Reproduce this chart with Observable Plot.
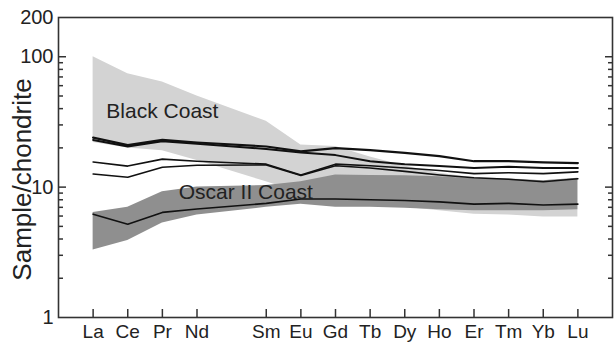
<!DOCTYPE html>
<html>
<head>
<meta charset="utf-8">
<script src="https://cdn.jsdelivr.net/npm/d3@7"></script>
<script src="https://cdn.jsdelivr.net/npm/@observablehq/plot@0.6"></script>
<style>
  html, body { margin: 0; padding: 0; background: #fff; }
  #chart { width: 614px; height: 344px; }
</style>
</head>
<body>
<div id="chart"></div>
<script>
// Full REE sequence (Pm is not plotted but keeps its slot)
const reeOrder = ["La","Ce","Pr","Nd","Pm","Sm","Eu","Gd","Tb","Dy","Ho","Er","Tm","Yb","Lu"];
const elements = ["La","Ce","Pr","Nd","Sm","Eu","Gd","Tb","Dy","Ho","Er","Tm","Yb","Lu"];

// Black Coast field (light grey)
const blackCoastUpper = [100, 74, 64, 50, 32, 21, 20.5, 17, 14.5, 12.8, 11.8, 11.6, 11.2, 11.6];
const blackCoastLower = [22, 20, 19, 16, 11, 9, 7.5, 7.3, 7.0, 6.6, 6.2, 6.1, 5.9, 5.9];
// Oscar II Coast field (dark grey)
const oscarUpper = [6.4, 7.0, 9.2, 10, 10.3, 11, 12.4, 12.3, 12.2, 12, 11.6, 11.5, 11.2, 11.7];
const oscarLower = [3.3, 3.9, 5.3, 6.1, 7.0, 7.4, 7.0, 7.0, 6.9, 6.7, 6.6, 6.6, 6.6, 6.7];

// Individual sample patterns
const sampleA = [24, 21, 23, 22, 20.5, 18.8, 19.9, 19.2, 18.3, 17.3, 15.8, 15.8, 15.5, 15.3];
const sampleB = [23, 20.5, 22.5, 21.5, 19.6, 18.4, 17.6, 15.8, 15.0, 14.5, 14.0, 14.3, 14.0, 14.0];
const sampleC = [15.6, 14.5, 16.4, 15.8, 15.0, 12.4, 15.0, 14.6, 14.0, 13.4, 12.7, 12.9, 12.7, 13.1];
const sampleD = [12.6, 11.9, 14.2, 14.7, 14.8, 12.3, 14.6, 14.0, 13.2, 12.4, 11.8, 11.5, 11.0, 11.6];
const sampleOscar = [6.2, 5.2, 6.4, 6.8, 7.5, 8.1, 8.1, 8.0, 7.9, 7.7, 7.4, 7.5, 7.3, 7.4];

// Axis ticks
const yLabelTicks = [1, 10, 100, 200];
const yMajorTicks = [10, 100];
const yMinorTicks = [2, 3, 4, 5, 6, 7, 8, 9, 20, 30, 40, 50, 60, 70, 80, 90];

// Field labels
const fieldLabels = [
  {text: "Black Coast", at: 2, value: 38},
  {text: "Oscar II Coast", at: 4.41, value: 9.1}
];

const xOf = (el) => reeOrder.indexOf(el);
const rows = elements.map((el, i) => ({
  el, x: xOf(el),
  bcU: blackCoastUpper[i], bcL: blackCoastLower[i],
  osU: oscarUpper[i], osL: oscarLower[i]
}));
const lineData = (arr, name) => elements.map((el, i) => ({x: xOf(el), v: arr[i], s: name}));

const font = "'Liberation Sans', Arial, Helvetica, sans-serif";
const ink = "#222";

const chart = Plot.plot({
  width: 614,
  height: 344,
  marginLeft: 58,
  marginRight: 2,
  marginTop: 17,
  marginBottom: 27,
  style: {fontFamily: font, background: "#fff", color: ink},
  x: {domain: [-1, 15], axis: null},
  y: {type: "log", domain: [1, 200], axis: null},
  marks: [
    Plot.areaY(rows, {x: "x", y1: "bcL", y2: "bcU", fill: "#d3d3d3"}),
    Plot.areaY(rows, {x: "x", y1: "osL", y2: "osU", fill: "#8f8f8f"}),
    Plot.lineY(lineData(sampleD, "D"), {x: "x", y: "v", stroke: "#111", strokeWidth: 1.6}),
    Plot.lineY(lineData(sampleC, "C"), {x: "x", y: "v", stroke: "#111", strokeWidth: 1.6}),
    Plot.lineY(lineData(sampleB, "B"), {x: "x", y: "v", stroke: "#111", strokeWidth: 2}),
    Plot.lineY(lineData(sampleA, "A"), {x: "x", y: "v", stroke: "#111", strokeWidth: 2.2}),
    Plot.lineY(lineData(sampleOscar, "O"), {x: "x", y: "v", stroke: "#111", strokeWidth: 1.6}),
    Plot.text(fieldLabels, {x: "at", y: "value", text: "text", fontSize: 21, fill: ink, fontFamily: font}),
    // inward ticks
    Plot.axisY(yMajorTicks, {anchor: "left", tickSize: -8, text: null, strokeWidth: 1.5, stroke: "#333"}),
    Plot.axisY(yMinorTicks, {anchor: "left", tickSize: -5, text: null, strokeWidth: 1.5, stroke: "#333"}),
    Plot.axisY(yMajorTicks, {anchor: "right", tickSize: -8, text: null, strokeWidth: 1.5, stroke: "#333"}),
    Plot.axisY(yMinorTicks, {anchor: "right", tickSize: -5, text: null, strokeWidth: 1.5, stroke: "#333"}),
    Plot.axisY(yLabelTicks, {anchor: "left", tickSize: 0, tickPadding: 5, fontSize: 20, fill: ink, tickFormat: d => String(d), label: null}),
    Plot.axisX(elements.map(xOf), {anchor: "bottom", tickSize: -8, text: null, strokeWidth: 1.5, stroke: "#333", label: null}),
    Plot.axisX(elements.map(xOf), {anchor: "bottom", tickSize: 0, tickPadding: 7, fontSize: 19, fill: ink,
      tickFormat: d => reeOrder[d], label: null}),
    Plot.text(["Sample/chondrite"], {frameAnchor: "left", textAnchor: "middle", dx: -36, dy: 12, rotate: -90, fontSize: 26, fill: ink, fontFamily: font}),
    Plot.frame({stroke: "#333", strokeWidth: 1.6})
  ]
});
document.getElementById("chart").appendChild(chart);
</script>
</body>
</html>
